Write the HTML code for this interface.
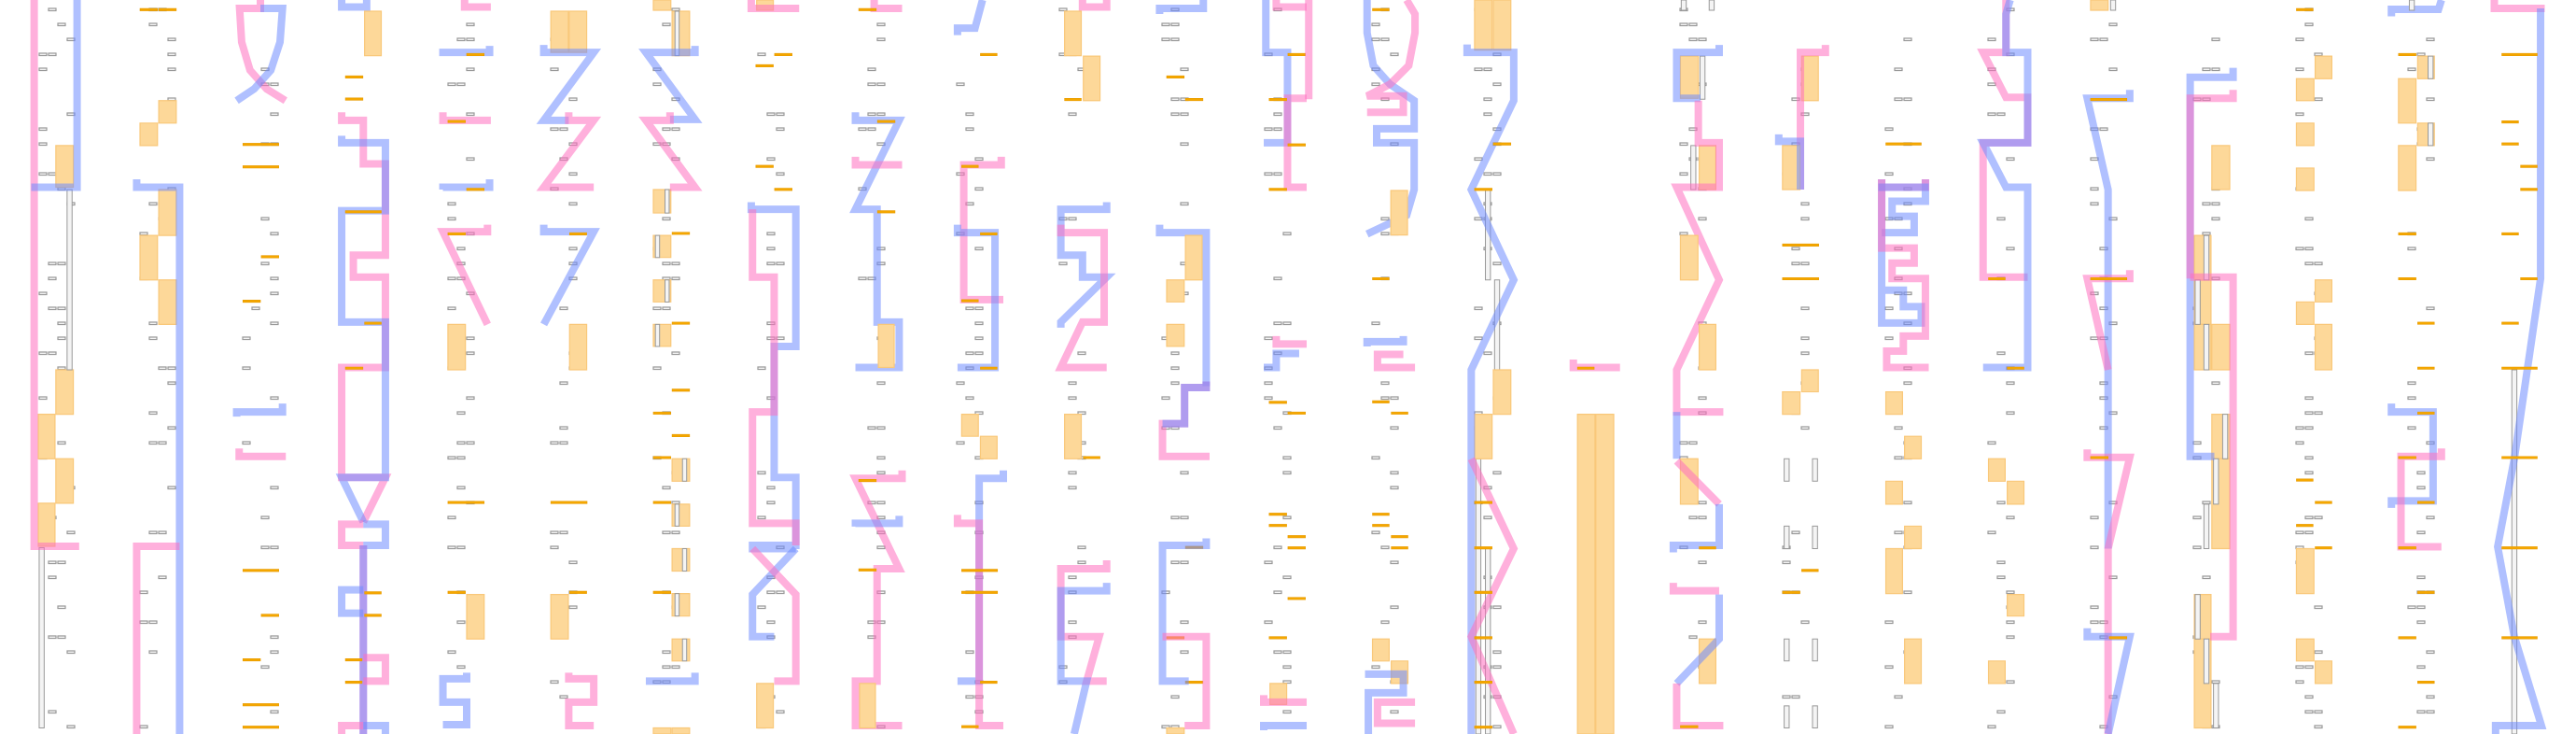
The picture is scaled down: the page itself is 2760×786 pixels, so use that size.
<!DOCTYPE html>
<html><head><meta charset="utf-8"><style>
html,body{margin:0;padding:0;background:#fff;}
svg{display:block;}
svg *{vector-effect:non-scaling-stroke;}
.p{fill:none;stroke:#ff6fc0;stroke-opacity:.55;stroke-width:8;stroke-linejoin:miter;}
.b{fill:none;stroke:#6f8cff;stroke-opacity:.55;stroke-width:8;stroke-linejoin:miter;}
.o{fill:#fdd899;stroke:#f9c87a;stroke-width:1.2;}
.l{fill:#f5a700;stroke:#e79b00;stroke-width:0.6;}
.g{fill:#f4f4f4;stroke:#999;stroke-width:1;}
.d{fill:#fff;stroke:#999;stroke-width:1.2;}
</style></head><body>
<svg id="s" width="2760" height="786" viewBox="0 0 2760 786" xmlns="http://www.w3.org/2000/svg">
<g id="dashes"></g>
<!-- PANEL 1 -->
<g transform="translate(0,0) scale(0.44643,0.50127)">
<rect class="o" x="134" y="311" width="42" height="89"/><rect class="o" x="134" y="790" width="42" height="95"/><rect class="o" x="92" y="885" width="40" height="95"/><rect class="o" x="134" y="980" width="42" height="95"/><rect class="o" x="92" y="1075" width="40" height="92"/>
<rect class="g" x="161" y="405" width="12" height="385"/><rect class="g" x="94" y="1170" width="12" height="385"/>
<polyline class="p" points="82,0 82,1167 190,1167"/>
<polyline class="b" points="185,0 185,400 75,400"/>
<rect class="l" x="336" y="18" width="42" height="5"/><rect class="l" x="381" y="18" width="42" height="5"/>
<rect class="o" x="381" y="215" width="42" height="48"/><rect class="o" x="336" y="263" width="42" height="48"/><rect class="o" x="381" y="405" width="42" height="98"/><rect class="o" x="336" y="503" width="42" height="95"/><rect class="o" x="381" y="598" width="42" height="95"/>
<polyline class="b" points="328,383 328,400 431,400 431,1568"/>
<polyline class="p" points="328,1568 328,1167 431,1167"/>
<polyline class="p" points="625,0 625,18 575,18 580,90 600,150 640,190 685,215"/>
<polyline class="b" points="625,18 678,18 672,90 650,150 610,190 568,215"/>
<polyline class="b" points="568,890 568,880 678,880 678,862"/>
<polyline class="p" points="574,958 574,975 686,975"/>
<rect class="l" x="583" y="306" width="86" height="5"/><rect class="l" x="583" y="354" width="86" height="5"/><rect class="l" x="627" y="546" width="42" height="5"/><rect class="l" x="583" y="641" width="42" height="5"/><rect class="l" x="583" y="1216" width="86" height="5"/><rect class="l" x="627" y="1312" width="42" height="5"/><rect class="l" x="583" y="1407" width="42" height="5"/><rect class="l" x="583" y="1503" width="86" height="5"/><rect class="l" x="583" y="1551" width="86" height="5"/>
<polyline class="b" points="820,0 820,15 880,15 880,0"/>
<rect class="o" x="875" y="24" width="40" height="95"/>
<rect class="l" x="829" y="162" width="42" height="5"/><rect class="l" x="829" y="209" width="42" height="5"/>
<polyline class="p" points="820,240 820,257 872,257 872,350 925,350 925,545 848,545 848,592 925,592 925,785 820,785 820,1020 925,1020 872,1115"/>
<polyline class="b" points="820,290 820,305 925,305 925,450 820,450 820,688 925,688 925,1020 820,1020 872,1115"/>
<polyline class="p" points="872,1120 820,1120 820,1165 872,1165"/>
<polyline class="b" points="872,1120 925,1120 925,1165 872,1165"/>
<line class="p" x1="872" y1="1165" x2="872" y2="1568"/><line class="b" x1="872" y1="1165" x2="872" y2="1568"/>
<polyline class="b" points="872,1260 820,1260 820,1310 872,1310"/>
<polyline class="p" points="872,1405 925,1405 925,1455 872,1455"/>
<polyline class="p" points="820,1568 820,1550 872,1550"/><polyline class="b" points="872,1550 925,1550 925,1568"/>
<rect class="l" x="829" y="450" width="86" height="5"/><rect class="l" x="875" y="688" width="40" height="5"/><rect class="l" x="829" y="784" width="42" height="5"/><rect class="l" x="875" y="1264" width="40" height="5"/><rect class="l" x="875" y="1312" width="40" height="5"/><rect class="l" x="829" y="1407" width="40" height="5"/><rect class="l" x="829" y="1455" width="40" height="5"/>
<polyline class="p" points="1115,0 1115,15 1178,15"/>
<polyline class="b" points="1063,120 1063,112 1175,112 1175,98"/>
<polyline class="p" points="1063,240 1063,257 1178,257"/>
<polyline class="b" points="1063,405 1063,400 1175,400 1175,383"/>
<polyline class="p" points="1170,480 1170,495 1063,495 1170,693"/>
<rect class="o" x="1075" y="693" width="42" height="97"/><rect class="o" x="1120" y="1270" width="42" height="95"/>
<rect class="l" x="1120" y="114" width="42" height="5"/><rect class="l" x="1075" y="257" width="42" height="5"/><rect class="l" x="1120" y="402" width="42" height="5"/><rect class="l" x="1075" y="497" width="42" height="5"/><rect class="l" x="1075" y="1071" width="87" height="5"/><rect class="l" x="1075" y="1263" width="42" height="5"/>
<polyline class="b" points="1120,1437 1120,1450 1063,1450 1063,1500 1120,1500 1120,1548 1063,1548"/>
<rect class="o" x="1322" y="24" width="42" height="88"/><rect class="o" x="1366" y="24" width="42" height="88"/>
<polyline class="b" points="1305,96 1305,112 1425,112 1305,257 1365,257"/>
<polyline class="p" points="1365,240 1365,257 1425,257 1305,400 1425,400"/>
<polyline class="b" points="1305,480 1305,495 1425,495 1305,693"/>
<rect class="o" x="1367" y="693" width="41" height="97"/><rect class="o" x="1322" y="1270" width="42" height="95"/>
<rect class="l" x="1367" y="497" width="41" height="5"/><rect class="l" x="1322" y="1071" width="87" height="5"/><rect class="l" x="1367" y="1263" width="41" height="5"/>
<polyline class="p" points="1365,1437 1365,1450 1425,1450 1425,1500 1365,1500 1365,1550 1425,1550"/>
</g>
<!-- PANEL 2 -->
<g transform="translate(700,0) scale(0.44643,0.50127)">
<rect class="o" x="0" y="0" width="42" height="22"/><rect class="o" x="45" y="24" width="42" height="95"/>
<rect class="o" x="0" y="405" width="42" height="50"/><rect class="o" x="0" y="503" width="42" height="47"/><rect class="o" x="0" y="598" width="42" height="47"/><rect class="o" x="0" y="693" width="42" height="47"/>
<rect class="o" x="45" y="980" width="42" height="48"/><rect class="o" x="45" y="1077" width="42" height="47"/><rect class="o" x="45" y="1172" width="42" height="48"/><rect class="o" x="45" y="1268" width="42" height="48"/><rect class="o" x="45" y="1365" width="42" height="47"/><rect class="o" x="0" y="1555" width="42" height="13"/><rect class="o" x="45" y="1555" width="42" height="13"/>
<rect class="g" x="52" y="24" width="10" height="95"/><rect class="g" x="28" y="405" width="10" height="50"/><rect class="g" x="5" y="503" width="10" height="47"/><rect class="g" x="28" y="598" width="10" height="47"/><rect class="g" x="5" y="693" width="10" height="47"/><rect class="g" x="70" y="980" width="10" height="48"/><rect class="g" x="52" y="1077" width="10" height="47"/><rect class="g" x="70" y="1172" width="10" height="48"/><rect class="g" x="52" y="1268" width="10" height="48"/><rect class="g" x="70" y="1365" width="10" height="47"/>
<polyline class="b" points="100,98 100,112 -18,112 100,255 40,255"/>
<polyline class="p" points="40,240 40,257 -18,257 100,400 40,400"/>
<polyline class="b" points="-18,1455 100,1455 100,1437"/>
<rect class="l" x="45" y="496" width="42" height="5"/><rect class="l" x="45" y="688" width="42" height="5"/><rect class="l" x="45" y="831" width="42" height="5"/><rect class="l" x="45" y="928" width="42" height="5"/><rect class="l" x="0" y="880" width="42" height="5"/><rect class="l" x="0" y="975" width="42" height="5"/><rect class="l" x="0" y="1071" width="42" height="5"/><rect class="l" x="0" y="1263" width="42" height="5"/>
<rect class="o" x="248" y="0" width="40" height="22"/>
<polyline class="p" points="235,0 235,18 350,18"/>
<rect class="l" x="291" y="114" width="42" height="5"/><rect class="l" x="291" y="402" width="42" height="5"/><rect class="l" x="246" y="138" width="42" height="5"/><rect class="l" x="246" y="353" width="42" height="5"/>
<polyline class="b" points="235,432 235,447 342,447 342,740 290,740 290,1020 342,1020 342,1165 238,1165 238,1172 342,1172"/>
<polyline class="b" points="342,1172 238,1270 238,1360 290,1360"/>
<polyline class="p" points="238,447 238,592 290,592 290,880 238,880 238,1118 342,1118 342,1165"/>
<polyline class="p" points="238,1172 342,1270 342,1455 290,1455"/>
<rect class="o" x="248" y="1460" width="40" height="95"/>
<polyline class="p" points="530,0 530,18 597,18"/>
<polyline class="b" points="485,240 485,257 590,257 485,447 537,447 537,688 590,688 590,785 485,785"/>
<polyline class="p" points="485,335 485,352 597,352"/>
<rect class="o" x="540" y="693" width="38" height="92"/>
<polyline class="p" points="597,1005 597,1022 485,1022 590,1215 537,1215 537,1455 485,1455 485,1550 597,1550"/>
<polyline class="b" points="485,1125 485,1118 590,1118 590,1102"/>
<rect class="o" x="495" y="1460" width="38" height="95"/>
<rect class="l" x="493" y="18" width="42" height="5"/><rect class="l" x="538" y="257" width="42" height="5"/><rect class="l" x="538" y="450" width="42" height="5"/><rect class="l" x="493" y="1024" width="42" height="5"/><rect class="l" x="493" y="1215" width="42" height="5"/>
<polyline class="b" points="790,0 772,60 730,60 730,75"/>
<polyline class="p" points="835,335 835,352 745,352 745,640 840,640"/>
<polyline class="b" points="730,480 730,497 820,497 820,785 730,785"/>
<rect class="o" x="740" y="885" width="40" height="47"/><rect class="o" x="785" y="932" width="40" height="48"/>
<polyline class="b" points="840,1005 840,1022 782,1022 782,1455 730,1455"/>
<polyline class="p" points="730,1100 730,1118 782,1118 782,1550 840,1550"/>
<rect class="l" x="740" y="1216" width="86" height="5"/><rect class="l" x="740" y="1263" width="86" height="5"/><rect class="l" x="785" y="114" width="40" height="5"/><rect class="l" x="785" y="497" width="40" height="5"/><rect class="l" x="785" y="784" width="40" height="5"/><rect class="l" x="785" y="1455" width="40" height="5"/><rect class="l" x="740" y="640" width="40" height="5"/><rect class="l" x="740" y="1550" width="40" height="5"/><rect class="l" x="740" y="353" width="40" height="5"/>
<polyline class="p" points="1030,0 1030,15 1088,15 1088,0"/>
<rect class="o" x="987" y="24" width="40" height="95"/><rect class="o" x="1032" y="120" width="40" height="95"/>
<rect class="l" x="987" y="210" width="40" height="5"/><rect class="l" x="1032" y="975" width="40" height="5"/>
<polyline class="b" points="1088,432 1088,447 978,447 978,545 1030,545 1030,592 1088,592 978,688 978,700"/>
<polyline class="p" points="978,480 978,497 1082,497 1082,688 1030,688 978,785 1088,785"/>
<rect class="o" x="987" y="885" width="40" height="95"/>
<polyline class="p" points="1088,1197 1088,1215 978,1215 978,1360 1070,1360 1040,1455 1088,1455"/>
<polyline class="b" points="1088,1245 1088,1262 978,1262 978,1455 1040,1455 1010,1568"/>
<polyline class="b" points="1215,30 1215,18 1320,18 1320,0"/>
<rect class="l" x="1232" y="162" width="42" height="5"/><rect class="l" x="1277" y="210" width="42" height="5"/><rect class="l" x="1277" y="1167" width="42" height="5"/><rect class="l" x="1232" y="1360" width="42" height="5"/><rect class="l" x="1277" y="1455" width="42" height="5"/>
<polyline class="b" points="1215,480 1215,497 1327,497 1327,825"/>
<rect class="o" x="1277" y="503" width="40" height="95"/><rect class="o" x="1232" y="598" width="42" height="47"/><rect class="o" x="1232" y="693" width="42" height="47"/>
<polyline class="p" points="1327,815 1327,828 1275,828 1275,905 1222,905 1222,975 1335,975"/>
<polyline class="b" points="1327,815 1327,828 1275,828 1275,905 1222,905"/>
<polyline class="b" points="1327,1150 1327,1165 1222,1165 1222,1455 1285,1455"/>
<polyline class="p" points="1222,1360 1327,1360 1327,1550 1275,1550"/>
<rect class="o" x="1232" y="1555" width="42" height="13"/>
<polyline class="b" points="1470,0 1470,112 1522,112 1522,305 1465,305"/>
<polyline class="p" points="1495,0 1495,15 1568,15"/>
<polyline class="p" points="1568,210 1522,210 1522,400 1568,400"/>
<polyline class="p" points="1495,718 1495,735 1568,735"/>
<polyline class="b" points="1550,755 1495,755 1495,785 1465,785"/>
<rect class="o" x="1480" y="1460" width="40" height="45"/>
<polyline class="p" points="1465,1485 1465,1500 1568,1500"/>
<polyline class="b" points="1465,1560 1465,1550 1568,1550"/>
<rect class="l" x="1478" y="210" width="42" height="5"/><rect class="l" x="1523" y="114" width="42" height="5"/><rect class="l" x="1523" y="307" width="42" height="5"/><rect class="l" x="1478" y="402" width="42" height="5"/><rect class="l" x="1478" y="857" width="42" height="5"/><rect class="l" x="1523" y="880" width="42" height="5"/><rect class="l" x="1478" y="1096" width="42" height="5"/><rect class="l" x="1478" y="1120" width="42" height="5"/><rect class="l" x="1523" y="1144" width="42" height="5"/><rect class="l" x="1523" y="1168" width="42" height="5"/><rect class="l" x="1523" y="1276" width="42" height="5"/><rect class="l" x="1478" y="1360" width="42" height="5"/>
</g>
<!-- PANEL 3 -->
<g transform="translate(1400,0) scale(0.44643,0.50127)">
<polyline class="p" points="5,0 5,212"/>
<polyline class="b" points="145,0 145,70 160,140 200,180 258,215 258,275 168,275 168,305 258,305 258,405 240,460 145,500"/>
<polyline class="p" points="240,0 260,30 260,70 245,140 200,180 145,205 232,205 232,240 145,240"/>
<rect class="o" x="202" y="407" width="40" height="95"/>
<polyline class="b" points="145,740 145,730 232,730 232,718"/>
<polyline class="p" points="260,785 170,785 170,757 232,757"/>
<rect class="l" x="158" y="18" width="40" height="5"/><rect class="l" x="158" y="593" width="40" height="5"/><rect class="l" x="158" y="856" width="40" height="5"/><rect class="l" x="158" y="1096" width="40" height="5"/><rect class="l" x="158" y="1120" width="40" height="5"/><rect class="l" x="203" y="880" width="40" height="5"/><rect class="l" x="203" y="1144" width="40" height="5"/><rect class="l" x="203" y="1168" width="40" height="5"/>
<rect class="o" x="158" y="1365" width="40" height="47"/><rect class="o" x="203" y="1412" width="40" height="48"/>
<polyline class="b" points="148,1568 148,1480 232,1480 232,1440 140,1440"/>
<polyline class="p" points="260,1500 170,1500 170,1545 260,1545"/>
<rect class="o" x="403" y="0" width="42" height="107"/><rect class="o" x="448" y="0" width="42" height="107"/>
<rect class="g" x="429" y="405" width="12" height="193"/><rect class="g" x="451" y="598" width="12" height="192"/><rect class="g" x="406" y="980" width="12" height="588"/><rect class="g" x="429" y="1172" width="12" height="396"/>
<rect class="o" x="448" y="790" width="42" height="95"/><rect class="o" x="403" y="885" width="42" height="95"/>
<polyline class="b" points="385,95 385,112 497,112 497,215 395,405 497,598 395,790 395,1568"/>
<polyline class="p" points="395,980 497,1172 395,1360 497,1568"/>
<rect class="l" x="403" y="402" width="42" height="5"/><rect class="l" x="448" y="305" width="42" height="5"/><rect class="l" x="403" y="1071" width="42" height="5"/><rect class="l" x="403" y="1168" width="42" height="5"/><rect class="l" x="403" y="1263" width="42" height="5"/><rect class="l" x="403" y="1360" width="42" height="5"/><rect class="l" x="403" y="1455" width="42" height="5"/><rect class="l" x="403" y="1551" width="42" height="5"/>
<polyline class="p" points="640,768 640,785 752,785"/>
<rect class="l" x="650" y="784" width="40" height="5"/>
<rect class="o" x="650" y="885" width="42" height="683"/><rect class="o" x="694" y="885" width="43" height="683"/>
<rect class="g" x="899" y="0" width="12" height="22"/><rect class="g" x="966" y="0" width="12" height="22"/>
<rect class="o" x="897" y="120" width="43" height="90"/><rect class="g" x="944" y="120" width="12" height="92"/>
<polyline class="b" points="990,96 990,112 888,112 888,210 945,210"/>
<rect class="o" x="942" y="311" width="40" height="94"/><rect class="g" x="922" y="311" width="12" height="94"/>
<polyline class="p" points="940,215 940,305 990,305 990,400 888,400 990,598 888,790 888,880 1000,880"/>
<rect class="o" x="897" y="503" width="42" height="95"/><rect class="o" x="942" y="693" width="40" height="97"/><rect class="o" x="897" y="980" width="42" height="97"/><rect class="o" x="942" y="1365" width="40" height="95"/>
<polyline class="b" points="888,880 888,980"/>
<polyline class="p" points="888,985 990,1077"/>
<polyline class="b" points="990,1077 990,1165 880,1165 880,1180"/>
<polyline class="p" points="880,1245 880,1262 990,1262"/>
<polyline class="b" points="990,1270 990,1365 888,1460"/>
<polyline class="p" points="888,1460 888,1550 1000,1550"/>
<rect class="l" x="942" y="1168" width="40" height="5"/><rect class="l" x="897" y="1550" width="42" height="5"/>
<rect class="o" x="1188" y="120" width="40" height="95"/>
<polyline class="p" points="1245,96 1245,112 1185,112 1185,405"/>
<rect class="o" x="1142" y="311" width="42" height="94"/>
<polyline class="b" points="1133,287 1133,302 1185,302 1185,405"/>
<rect class="o" x="1188" y="790" width="40" height="47"/><rect class="o" x="1142" y="837" width="42" height="48"/>
<rect class="g" x="1146" y="980" width="12" height="48"/><rect class="g" x="1214" y="980" width="12" height="48"/><rect class="g" x="1146" y="1124" width="12" height="48"/><rect class="g" x="1214" y="1124" width="12" height="48"/><rect class="g" x="1146" y="1365" width="12" height="47"/><rect class="g" x="1214" y="1365" width="12" height="47"/><rect class="g" x="1146" y="1508" width="12" height="47"/><rect class="g" x="1214" y="1508" width="12" height="47"/>
<rect class="l" x="1142" y="521" width="87" height="5"/><rect class="l" x="1142" y="593" width="87" height="5"/><rect class="l" x="1142" y="1263" width="42" height="5"/><rect class="l" x="1188" y="1216" width="40" height="5"/>
<rect class="l" x="1390" y="305" width="85" height="5"/>
<polyline class="b" points="1380,383 1380,690 1475,690 1475,655 1432,655 1432,620 1380,620"/>
<polyline class="b" points="1485,383 1485,430 1405,430 1405,462 1458,462 1458,497 1380,497"/>
<polyline class="p" points="1380,383 1380,530 1458,530 1458,562 1405,562 1405,595 1485,595 1485,718 1432,718 1432,750 1392,750 1392,785 1493,785"/>
<polyline class="p" points="1485,383 1485,400 1372,400"/><polyline class="b" points="1372,400 1493,400"/>
<rect class="o" x="1390" y="837" width="40" height="48"/><rect class="o" x="1435" y="932" width="40" height="48"/><rect class="o" x="1390" y="1028" width="40" height="49"/><rect class="o" x="1435" y="1124" width="40" height="48"/><rect class="o" x="1390" y="1172" width="40" height="96"/><rect class="o" x="1435" y="1365" width="40" height="95"/>
</g>
<!-- PANEL 4 -->
<g transform="translate(2060,0) scale(0.44643,0.50127)">
<polyline class="p" points="200,0 200,112 145,112 200,208 252,208 252,305 145,305 145,592 252,592"/>
<polyline class="b" points="210,0 200,30 200,112 252,112 252,305 145,305 200,400 252,400 252,785 145,785"/>
<rect class="l" x="158" y="593" width="40" height="5"/><rect class="l" x="203" y="784" width="40" height="5"/>
<rect class="o" x="158" y="980" width="40" height="48"/><rect class="o" x="203" y="1028" width="40" height="49"/><rect class="o" x="203" y="1270" width="40" height="46"/><rect class="o" x="158" y="1412" width="40" height="48"/>
<rect class="o" x="403" y="0" width="42" height="22"/><rect class="g" x="451" y="0" width="12" height="22"/>
<polyline class="b" points="497,192 497,210 395,210 445,405 445,1172"/>
<polyline class="p" points="497,577 497,595 395,595 445,790"/>
<polyline class="p" points="395,960 395,977 497,977 445,1172 445,1568"/>
<polyline class="b" points="395,1342 395,1360 497,1360 445,1568"/>
<rect class="l" x="403" y="210" width="87" height="5"/><rect class="l" x="403" y="593" width="87" height="5"/><rect class="l" x="403" y="975" width="42" height="5"/><rect class="l" x="448" y="1360" width="42" height="5"/>
<rect class="o" x="694" y="311" width="43" height="94"/><rect class="o" x="652" y="503" width="40" height="95"/><rect class="o" x="652" y="598" width="40" height="95"/><rect class="o" x="652" y="693" width="40" height="97"/><rect class="o" x="694" y="693" width="43" height="97"/><rect class="o" x="694" y="885" width="43" height="95"/><rect class="o" x="694" y="980" width="43" height="192"/><rect class="o" x="652" y="1270" width="40" height="95"/><rect class="o" x="652" y="1365" width="40" height="190"/>
<rect class="g" x="675" y="503" width="12" height="95"/><rect class="g" x="654" y="598" width="12" height="95"/><rect class="g" x="675" y="693" width="12" height="97"/><rect class="g" x="720" y="885" width="12" height="95"/><rect class="g" x="698" y="980" width="12" height="97"/><rect class="g" x="675" y="1077" width="12" height="95"/><rect class="g" x="654" y="1270" width="12" height="95"/><rect class="g" x="675" y="1365" width="12" height="95"/><rect class="g" x="698" y="1460" width="12" height="95"/>
<polyline class="b" points="745,145 745,165 642,165 642,975 700,975"/>
<polyline class="p" points="745,192 745,210 642,210 642,595"/>
<polyline class="p" points="642,592 745,592 745,1360 690,1360"/>
<rect class="o" x="942" y="120" width="40" height="48"/><rect class="o" x="897" y="168" width="42" height="47"/><rect class="o" x="897" y="263" width="42" height="48"/><rect class="o" x="897" y="359" width="42" height="48"/><rect class="o" x="942" y="598" width="40" height="47"/><rect class="o" x="897" y="645" width="42" height="48"/><rect class="o" x="942" y="693" width="40" height="97"/><rect class="o" x="897" y="1172" width="42" height="96"/><rect class="o" x="897" y="1365" width="42" height="47"/><rect class="o" x="942" y="1412" width="40" height="48"/>
<rect class="l" x="897" y="18" width="40" height="5"/><rect class="l" x="897" y="1023" width="40" height="5"/><rect class="l" x="942" y="1071" width="40" height="5"/><rect class="l" x="897" y="1120" width="40" height="5"/><rect class="l" x="942" y="1168" width="40" height="5"/>
<polyline class="b" points="1245,0 1238,20 1125,20 1125,35"/>
<rect class="o" x="1188" y="120" width="40" height="48"/><rect class="o" x="1142" y="168" width="42" height="95"/><rect class="o" x="1188" y="263" width="40" height="48"/><rect class="o" x="1142" y="311" width="42" height="96"/>
<rect class="g" x="1213" y="120" width="12" height="48"/><rect class="g" x="1213" y="263" width="12" height="48"/><rect class="g" x="1168" y="0" width="12" height="22"/>
<polyline class="b" points="1125,862 1125,880 1225,880 1225,1070 1125,1070 1125,1085"/>
<polyline class="p" points="1245,958 1245,975 1148,975 1148,1168 1245,1168"/>
<rect class="l" x="1142" y="114" width="42" height="5"/><rect class="l" x="1142" y="497" width="42" height="5"/><rect class="l" x="1142" y="593" width="42" height="5"/><rect class="l" x="1188" y="688" width="40" height="5"/><rect class="l" x="1188" y="784" width="40" height="5"/><rect class="l" x="1188" y="880" width="40" height="5"/><rect class="l" x="1142" y="975" width="42" height="5"/><rect class="l" x="1188" y="1071" width="40" height="5"/><rect class="l" x="1142" y="1168" width="42" height="5"/><rect class="l" x="1188" y="1263" width="40" height="5"/><rect class="l" x="1142" y="1360" width="42" height="5"/><rect class="l" x="1188" y="1455" width="40" height="5"/><rect class="l" x="1142" y="1551" width="42" height="5"/>
<rect class="g" x="1414" y="790" width="12" height="778"/>
<polyline class="p" points="1372,0 1372,18 1493,18"/>
<polyline class="b" points="1483,18 1483,595 1420,980 1380,1168 1420,1360 1485,1550 1375,1550 1375,1568"/>
<rect class="l" x="1390" y="114" width="85" height="5"/><rect class="l" x="1390" y="258" width="40" height="5"/><rect class="l" x="1390" y="305" width="40" height="5"/><rect class="l" x="1435" y="353" width="40" height="5"/><rect class="l" x="1435" y="402" width="40" height="5"/><rect class="l" x="1390" y="497" width="40" height="5"/><rect class="l" x="1435" y="593" width="40" height="5"/><rect class="l" x="1390" y="688" width="40" height="5"/><rect class="l" x="1390" y="784" width="85" height="5"/><rect class="l" x="1390" y="975" width="85" height="5"/><rect class="l" x="1390" y="1168" width="85" height="5"/><rect class="l" x="1390" y="1360" width="85" height="5"/>
</g>
</svg>
<script>
(function(){
var g=document.getElementById('dashes');
var cols=[[42,4],[150,4],[260,4],[480,3],[590,3],[700,3],[812,3],[920,3],[1025,3],[1135,3],[1245,3],[1355,3],[1470,3],[1580,3],[1800,3],[1910,3],[2020,3],[2130,3],[2240,3],[2350,3],[2460,3],[2580,3]];
var seed=7;function r(){seed=(seed*1103515245+12345)%2147483648;return seed/2147483648;}
var ns='http://www.w3.org/2000/svg';
cols.forEach(function(c){
 for(var y=9;y<780;y+=16){
  if(r()<0.45) continue;
  var k=Math.floor(r()*c[1]);
  var n=r()<0.3?2:1;
  for(var j=0;j<n&&k+j<c[1];j++){
   var e=document.createElementNS(ns,'rect');
   e.setAttribute('x',c[0]+(k+j)*10);e.setAttribute('y',y);
   e.setAttribute('width',8);e.setAttribute('height',2.5);e.setAttribute('class','d');
   g.appendChild(e);
  }
 }
});
})();
</script>
</body></html>
